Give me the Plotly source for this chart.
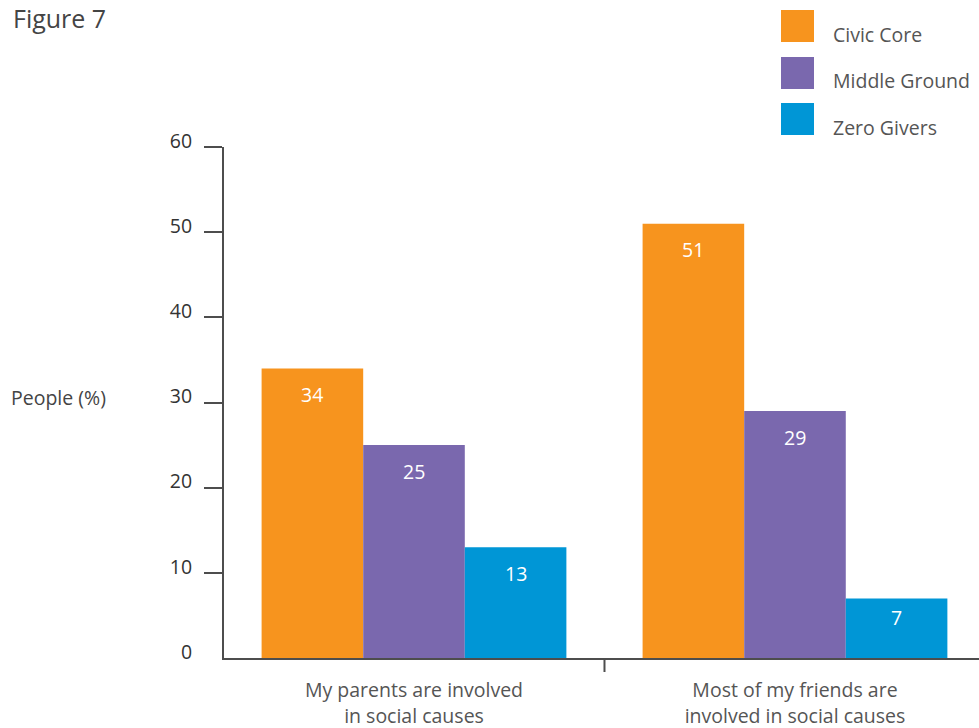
import plotly.graph_objects as go

# ---- data ----
categories = ["My parents are involved<br>in social causes",
              "Most of my friends are<br>involved in social causes"]
series_names = ["Civic Core", "Middle Ground", "Zero Givers"]
civic_core = [34, 51]
middle_ground = [25, 29]
zero_givers = [13, 7]
y_ticks = [0, 10, 20, 30, 40, 50, 60]

series_values = [civic_core, middle_ground, zero_givers]
colors = ["#F7941E", "#7A68AE", "#0096D6"]

W, H = 979, 728
ML, MR, MT, MB = 224, 0, 147, 70
PW, PH = W - ML - MR, H - MT - MB
FONT = "Open Sans"
BARGAP = 0.2
AXC = "#4d4d4d"


def px_x(px):
    return (px - ML) / PW


def px_y(py):
    return (H - MB - py) / PH


fig = go.Figure()
for name, vals, col in zip(series_names, series_values, colors):
    fig.add_trace(go.Bar(
        x=list(range(len(categories))), y=vals, name=name,
        marker=dict(color=col, line=dict(width=0)),
        showlegend=False, hoverinfo="y+name",
    ))

annotations = []
# value labels inside bars (computed from the data)
bw = (1 - BARGAP) / len(series_names)
for i, vals in enumerate(series_values):
    off = (i - (len(series_names) - 1) / 2) * bw
    for c, v in enumerate(vals):
        annotations.append(dict(
            x=c + off, y=v, xref="x", yref="y", text=str(v),
            showarrow=False, yanchor="middle", yshift=-26 if v > 10 else -19,
            font=dict(family=FONT, size=19.5, color="white"),
        ))

# title and y-axis title
annotations.append(dict(x=px_x(11), y=px_y(18), xref="paper", yref="paper",
                        text="Figure 7", showarrow=False, xanchor="left",
                        yanchor="middle",
                        font=dict(family=FONT, size=25, color="#444444")))
annotations.append(dict(x=px_x(9), y=px_y(397), xref="paper", yref="paper",
                        text="People (%)", showarrow=False, xanchor="left",
                        yanchor="middle",
                        font=dict(family=FONT, size=19.5, color="#444444")))

# custom legend with large squares
shapes = []
leg_tops = [10, 57, 103]
for name, col, top in zip(series_names, colors, leg_tops):
    shapes.append(dict(type="rect", xref="paper", yref="paper",
                       x0=px_x(781), x1=px_x(814), y0=px_y(top), y1=px_y(top + 32),
                       fillcolor=col, line=dict(width=0)))
    annotations.append(dict(x=px_x(831), y=px_y(top + 24), xref="paper",
                            yref="paper", text=name, showarrow=False,
                            xanchor="left", yanchor="middle",
                            font=dict(family=FONT, size=19.5, color="#555555")))

# divider tick between categories
shapes.append(dict(type="line", xref="x", yref="paper", x0=0.5, x1=0.5,
                   y0=0, y1=-14 / PH, line=dict(color=AXC, width=2)))

fig.update_layout(
    width=W, height=H,
    margin=dict(l=ML, r=MR, t=MT, b=MB, pad=0),
    paper_bgcolor="white", plot_bgcolor="white",
    barmode="group", bargap=BARGAP, bargroupgap=0,
    annotations=annotations, shapes=shapes,
    showlegend=False,
    font=dict(family=FONT),
)
fig.update_xaxes(
    range=[-0.4987, 1.483], tickmode="array",
    tickvals=list(range(len(categories))), ticktext=categories,
    showline=True, linecolor=AXC, linewidth=2, ticks="",
    showgrid=False, zeroline=False, ticklabelstandoff=14,
    tickfont=dict(family=FONT, size=19.5, color="#555555"),
)
fig.update_yaxes(
    range=[0, 60], tickmode="array", tickvals=y_ticks,
    showline=True, linecolor=AXC, linewidth=2,
    ticks="", showgrid=False, zeroline=False,
    ticklabelstandoff=26, ticklabelshift=-6,
    minor=dict(ticks="outside", tickmode="array", tickvals=y_ticks[1:],
               ticklen=18, tickwidth=2, tickcolor=AXC, showgrid=False),
    tickfont=dict(family=FONT, size=19.5, color="#333333"),
)

fig.write_html("out.html")
